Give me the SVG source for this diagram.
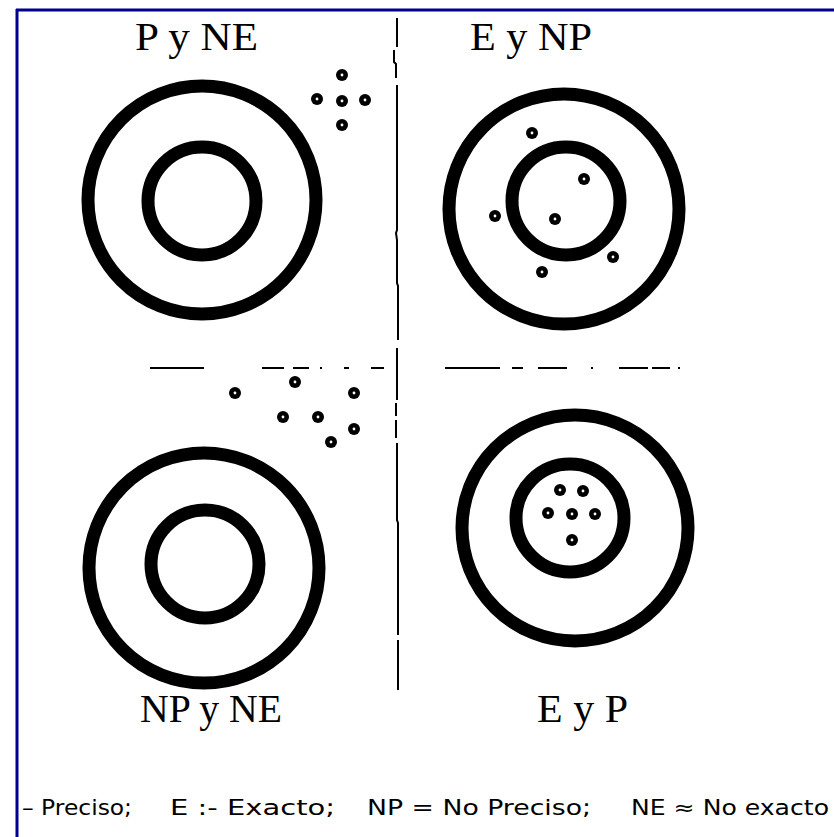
<svg xmlns="http://www.w3.org/2000/svg" width="834" height="837" viewBox="0 0 834 837">
<style>
.ring{fill:none;stroke:#000;stroke-width:13}
.dot{fill:#000}
.hole{fill:#fff}
.ttl{font-family:"Liberation Serif","Times New Roman",serif;font-size:39px;fill:#000}
.leg{font-family:"DejaVu Sans","Liberation Sans",sans-serif;font-size:21px;fill:#000}
.div{stroke:#000;stroke-width:2;fill:none}
</style>
<defs>
<g id="d"><circle class="dot" r="6"/><circle class="hole" r="1.4"/></g>
</defs>
<rect width="834" height="837" fill="#fff"/>
<g id="border">
<line x1="16" y1="10" x2="834" y2="10" stroke="#000090" stroke-width="3"/>
<line x1="17" y1="9" x2="17" y2="837" stroke="#000090" stroke-width="3"/>
</g>
<g id="connectors">
<polyline class="div" points="397,18 397,47"/>
<polyline class="div" points="394,50 394,62 396,64 396,78"/>
<polyline class="div" points="397,85 397,230 396,233 397,240 397,283 398,286 398,340"/>
<polyline class="div" points="397,348 397,400"/>
<polyline class="div" points="396,403 396,416"/>
<polyline class="div" points="396,420 396,438"/>
<polyline class="div" points="397,443 397,520 398,523 398,635"/>
<polyline class="div" points="398,640 398,690"/>
<g class="div">
<line x1="150" y1="368" x2="204" y2="368"/>
<line x1="262" y1="368" x2="284" y2="368"/>
<line x1="293" y1="368" x2="309" y2="368"/>
<line x1="320" y1="368" x2="322" y2="368"/>
<line x1="344" y1="368" x2="349" y2="368"/>
<line x1="371" y1="368" x2="384" y2="368"/>
<line x1="445" y1="368" x2="500" y2="368"/>
<line x1="512" y1="368" x2="523" y2="368"/>
<line x1="538" y1="368" x2="567" y2="368"/>
<line x1="591" y1="368" x2="593" y2="368"/>
<line x1="619" y1="368" x2="648" y2="368"/>
<line x1="652" y1="368" x2="670" y2="368"/>
<line x1="678" y1="368" x2="680" y2="368"/>
</g>
</g>
<g id="target-tl">
<circle class="ring" cx="202" cy="200" r="114"/>
<circle class="ring" cx="202" cy="201" r="54"/>
<use href="#d" x="342" y="75"/><use href="#d" x="317" y="99"/><use href="#d" x="342" y="101"/><use href="#d" x="365" y="100"/><use href="#d" x="342" y="125"/>
<text class="ttl" x="135" y="50" textLength="123" lengthAdjust="spacingAndGlyphs">P y NE</text>
</g>
<g id="target-tr">
<circle class="ring" cx="564" cy="209" r="115"/>
<circle class="ring" cx="566" cy="201" r="54"/>
<use href="#d" x="532" y="133"/><use href="#d" x="584" y="179"/><use href="#d" x="495" y="216"/><use href="#d" x="555" y="219"/><use href="#d" x="613" y="257"/><use href="#d" x="542" y="272"/>
<text class="ttl" x="470" y="50" textLength="122" lengthAdjust="spacingAndGlyphs">E y NP</text>
</g>
<g id="target-bl">
<circle class="ring" cx="204" cy="568" r="115"/>
<circle class="ring" cx="205" cy="564" r="54"/>
<use href="#d" x="295" y="382"/><use href="#d" x="235" y="393"/><use href="#d" x="354" y="393"/><use href="#d" x="283" y="417"/><use href="#d" x="318" y="417"/><use href="#d" x="354" y="429"/><use href="#d" x="331" y="442"/>
<text class="ttl" x="140" y="722" textLength="142" lengthAdjust="spacingAndGlyphs">NP y NE</text>
</g>
<g id="target-br">
<circle class="ring" cx="575" cy="528" r="113"/>
<circle class="ring" cx="570" cy="518" r="54"/>
<use href="#d" x="560" y="490"/><use href="#d" x="583" y="491"/><use href="#d" x="548" y="513"/><use href="#d" x="572" y="514"/><use href="#d" x="595" y="514"/><use href="#d" x="572" y="540"/>
<text class="ttl" x="537" y="722" textLength="91" lengthAdjust="spacingAndGlyphs">E y P</text>
</g>
<g id="legend">
<text class="leg" x="22" y="815" textLength="110" lengthAdjust="spacingAndGlyphs">– Preciso;</text>
<text class="leg" x="170" y="815" textLength="165" lengthAdjust="spacingAndGlyphs">E :- Exacto;</text>
<text class="leg" x="367" y="815" textLength="224" lengthAdjust="spacingAndGlyphs">NP = No Preciso;</text>
<text class="leg" x="631" y="815" textLength="198" lengthAdjust="spacingAndGlyphs">NE ≈ No exacto</text>
</g>
</svg>
